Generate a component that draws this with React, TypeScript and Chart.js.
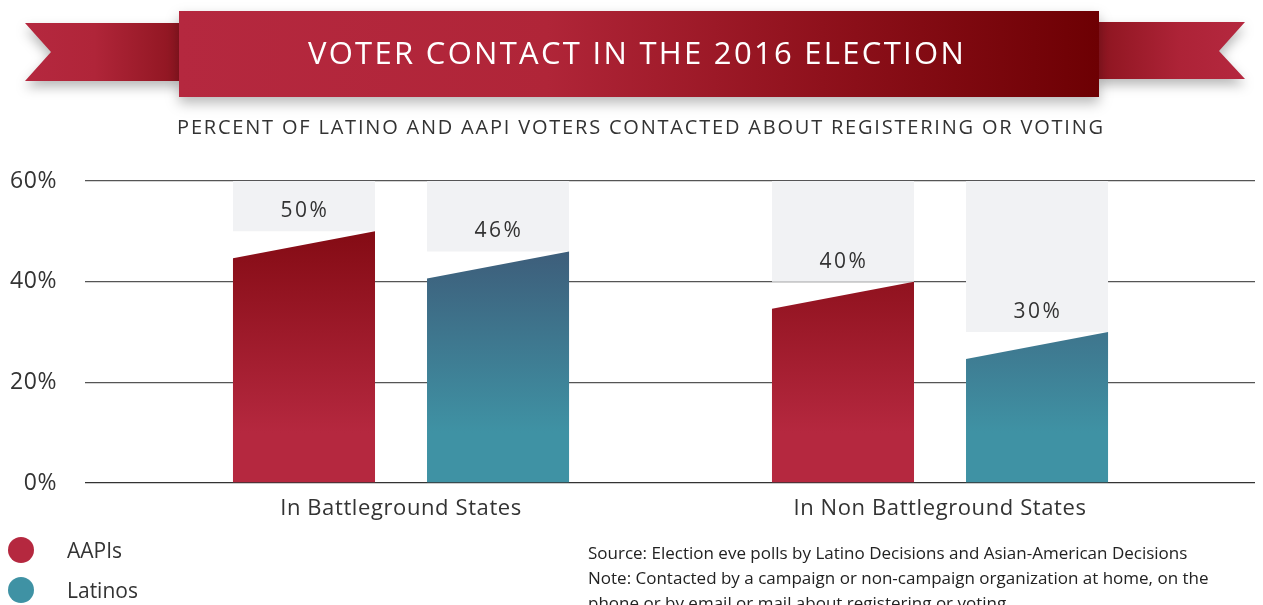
import React, { useEffect, useRef } from "react";
import { Chart, registerables } from "chart.js";

Chart.register(...registerables);

// ---------- data ----------
const categories = ["In Battleground States", "In Non Battleground States"];
const seriesNames = ["AAPIs", "Latinos"];
const aapiValues = [50, 40];
const latinoValues = [46, 30];
const yTickValues = [0, 20, 40, 60];
const axisMax = 60;

const titleText = "VOTER CONTACT IN THE 2016 ELECTION";
const subtitleText =
  "PERCENT OF LATINO AND AAPI VOTERS CONTACTED ABOUT REGISTERING OR VOTING";
const sourceLines = [
  "Source: Election eve polls by Latino Decisions and Asian-American Decisions",
  "Note: Contacted by a campaign or non-campaign organization at home, on the",
  "phone or by email or mail about registering or voting.",
];

// ---------- styles ----------
const FONT = "'Open Sans', 'Noto Sans', sans-serif";
const TEXT = "#333333";
const RED_TOP = "#840b14";
const RED_BOTTOM = "#b5283f";
const TEAL_TOP = "#3d5876";
const TEAL_BOTTOM = "#3f92a4";
const REST_COLOR = "#f1f2f4";
const SLANT = 27;

const bannerPlugin = {
  id: "banner",
  beforeDraw(chart: any) {
    const ctx = chart.ctx as CanvasRenderingContext2D;
    ctx.save();
    ctx.shadowColor = "rgba(0,0,0,0.28)";
    ctx.shadowBlur = 12;
    ctx.shadowOffsetY = 6;
    // left tail
    let g = ctx.createLinearGradient(25, 0, 179, 0);
    g.addColorStop(0, "#b5283f");
    g.addColorStop(0.45, "#b02539");
    g.addColorStop(1, "#8e1520");
    ctx.fillStyle = g;
    ctx.beginPath();
    ctx.moveTo(25, 23);
    ctx.lineTo(182, 23);
    ctx.lineTo(182, 81);
    ctx.lineTo(25, 81);
    ctx.lineTo(51, 52);
    ctx.closePath();
    ctx.fill();
    // right tail
    g = ctx.createLinearGradient(1099, 0, 1245, 0);
    g.addColorStop(0, "#8e1520");
    g.addColorStop(0.55, "#ad2337");
    g.addColorStop(1, "#b5283f");
    ctx.fillStyle = g;
    ctx.beginPath();
    ctx.moveTo(1096, 22);
    ctx.lineTo(1245, 22);
    ctx.lineTo(1219, 51);
    ctx.lineTo(1245, 79);
    ctx.lineTo(1096, 79);
    ctx.closePath();
    ctx.fill();
    // main
    g = ctx.createLinearGradient(179, 0, 1099, 0);
    g.addColorStop(0, "#b5283f");
    g.addColorStop(0.4, "#b02538");
    g.addColorStop(0.7, "#8f111c");
    g.addColorStop(1, "#6d0003");
    ctx.fillStyle = g;
    ctx.fillRect(179, 11, 920, 86);
    ctx.restore();
  },
};

const barPlugin = {
  id: "slantBars",
  beforeDatasetDraw(chart: any, args: any) {
    const ds = chart.data.datasets[args.index];
    if (!ds.isValue) return;
    const ctx = chart.ctx as CanvasRenderingContext2D;
    const ys = chart.scales.y;
    const grad = ctx.createLinearGradient(
      0,
      ys.getPixelForValue(50),
      0,
      ys.getPixelForValue(10)
    );
    grad.addColorStop(0, ds.topColor);
    grad.addColorStop(1, ds.bottomColor);
    ctx.save();
    ctx.fillStyle = grad;
    args.meta.data.forEach((el: any) => {
      const { x, y, base, width } = el.getProps(["x", "y", "base", "width"], true);
      const l = x - width / 2;
      const r = x + width / 2;
      ctx.beginPath();
      ctx.moveTo(l, base);
      ctx.lineTo(l, y + SLANT);
      ctx.lineTo(r, y);
      ctx.lineTo(r, base);
      ctx.closePath();
      ctx.fill();
    });
    ctx.restore();
    return false;
  },
  afterDatasetsDraw(chart: any) {
    const ctx = chart.ctx as CanvasRenderingContext2D;
    ctx.save();
    ctx.fillStyle = TEXT;
    ctx.font = `21px ${FONT}`;
    (ctx as any).letterSpacing = "2.5px";
    ctx.textAlign = "center";
    ctx.textBaseline = "middle";
    chart.data.datasets.forEach((ds: any, i: number) => {
      if (!ds.isValue) return;
      const meta = chart.getDatasetMeta(i);
      meta.data.forEach((el: any, j: number) => {
        const { x, y } = el.getProps(["x", "y"], true);
        ctx.fillText(`${ds.values[j]}%`, x + 1, y - 20);
      });
    });
    ctx.restore();
  },
};

export default function App() {
  const canvasRef = useRef<HTMLCanvasElement | null>(null);

  useEffect(() => {
    if (!canvasRef.current) return;
    const mk = (vals: number[]) => vals.map((v, i) => ({ x: i, y: v }));
    const rest = (vals: number[]) => vals.map((v, i) => ({ x: i, y: axisMax - v }));
    const chart = new Chart(canvasRef.current, {
      type: "bar",
      data: {
        datasets: [
          {
            label: seriesNames[0],
            data: mk(aapiValues),
            values: aapiValues,
            stack: "a",
            backgroundColor: RED_BOTTOM,
            isValue: true,
            topColor: RED_TOP,
            bottomColor: RED_BOTTOM,
          } as any,
          {
            label: seriesNames[0] + " rest",
            data: rest(aapiValues),
            stack: "a",
            backgroundColor: REST_COLOR,
          } as any,
          {
            label: seriesNames[1],
            data: mk(latinoValues),
            values: latinoValues,
            stack: "l",
            backgroundColor: TEAL_BOTTOM,
            isValue: true,
            topColor: TEAL_TOP,
            bottomColor: TEAL_BOTTOM,
          } as any,
          {
            label: seriesNames[1] + " rest",
            data: rest(latinoValues),
            stack: "l",
            backgroundColor: REST_COLOR,
          } as any,
        ],
      },
      options: {
        animation: false,
        responsive: false,
        maintainAspectRatio: false,
        categoryPercentage: 0.72,
        barPercentage: 0.732,
        layout: { padding: { top: 181, right: 8, bottom: 72, left: 0 } },
        plugins: {
          legend: { display: false },
          tooltip: { enabled: false },
          title: { display: false },
        },
        scales: {
          x: {
            type: "linear",
            offset: false,
            stacked: true,
            min: -0.5863,
            max: 1.5844,
            afterBuildTicks: (s: any) => {
              s.ticks = categories.map((_, i) => ({ value: i }));
            },
            afterFit: (s: any) => {
              s.height = 50;
            },
            grid: { display: false },
            border: { display: false },
            ticks: {
              padding: 5,
              color: TEXT,
              font: { family: FONT, size: 22 },
              maxRotation: 0,
              autoSkip: false,
              callback: (v: any) => categories[Math.round(Number(v))] ?? "",
            },
          },
          y: {
            stacked: true,
            min: 0,
            max: axisMax,
            afterBuildTicks: (s: any) => {
              s.ticks = yTickValues.map((v) => ({ value: v }));
            },
            afterFit: (s: any) => {
              s.width = 85;
            },
            border: { display: false },
            grid: {
              drawTicks: false,
              color: (c: any) => (c.tick && c.tick.value === 0 ? "#333" : "#555"),
              lineWidth: 1.3,
            },
            ticks: {
              padding: 28,
              color: TEXT,
              font: { family: FONT, size: 23 },
              callback: (v: any) => `${v}%`,
            },
          },
        },
      } as any,
      plugins: [bannerPlugin, barPlugin],
    });
    // letter spacing for axis labels
    return () => chart.destroy();
  }, []);

  const abs: React.CSSProperties = {
    position: "absolute",
    whiteSpace: "nowrap",
    fontFamily: FONT,
    lineHeight: 1,
  };

  return (
    <div
      style={{
        position: "fixed",
        left: 0,
        top: 0,
        width: 1263,
        height: 605,
        overflow: "hidden",
        background: "#fff",
      }}
    >
      <canvas
        ref={canvasRef}
        width={1263}
        height={605}
        style={{ position: "absolute", left: 0, top: 0, width: 1263, height: 605, letterSpacing: "0.6px" }}
      />
      <div
        style={{
          ...abs,
          left: 637,
          top: 52,
          transform: "translate(-50%, -50%)",
          color: "#fff",
          fontSize: 31,
          letterSpacing: "2.3px",
        }}
      >
        {titleText}
      </div>
      <div
        style={{
          ...abs,
          left: 641,
          top: 127,
          transform: "translate(-50%, -50%)",
          color: TEXT,
          fontSize: 20,
          letterSpacing: "1.8px",
        }}
      >
        {subtitleText}
      </div>
      {seriesNames.map((name, i) => (
        <React.Fragment key={name}>
          <div
            style={{
              position: "absolute",
              left: 8,
              top: 537 + i * 40,
              width: 26,
              height: 26,
              borderRadius: "50%",
              background: i === 0 ? RED_BOTTOM : TEAL_BOTTOM,
            }}
          />
          <div
            style={{
              ...abs,
              left: 67,
              top: 550 + i * 40,
              transform: "translateY(-50%)",
              color: TEXT,
              fontSize: 21,
            }}
          >
            {name}
          </div>
        </React.Fragment>
      ))}
      {sourceLines.map((line, i) => (
        <div
          key={i}
          style={{
            ...abs,
            left: 588,
            top: 552 + i * 25,
            transform: "translateY(-50%)",
            color: "#222",
            fontSize: 17,
          }}
        >
          {line}
        </div>
      ))}
    </div>
  );
}
